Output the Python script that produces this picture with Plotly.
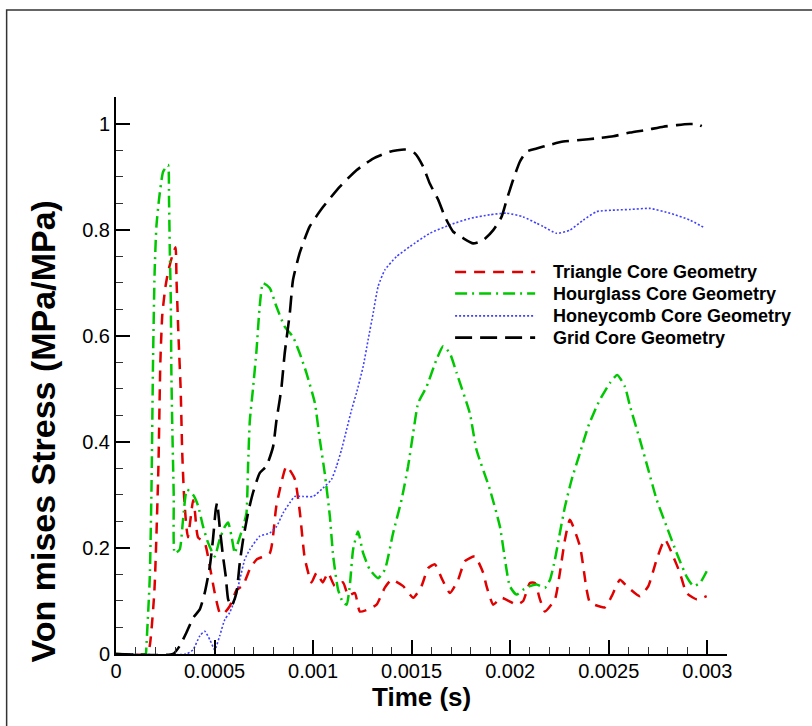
import plotly.graph_objects as go

# ---------------- data (time in seconds, stress ratio) ----------------
tri_t = [0, 0.155e-3, 0.171e-3, 0.195e-3, 0.215e-3, 0.225e-3, 0.235e-3, 0.250e-3, 0.264e-3, 0.285e-3,
         0.302e-3, 0.307e-3, 0.318e-3, 0.328e-3, 0.336e-3, 0.345e-3, 0.357e-3, 0.365e-3, 0.380e-3, 0.391e-3,
         0.400e-3, 0.416e-3, 0.450e-3, 0.476e-3, 0.501e-3, 0.526e-3, 0.543e-3, 0.577e-3, 0.611e-3, 0.645e-3,
         0.679e-3, 0.713e-3, 0.780e-3, 0.814e-3, 0.865e-3, 0.907e-3, 0.932e-3, 0.958e-3, 0.992e-3, 1.017e-3,
         1.049e-3, 1.076e-3, 1.110e-3, 1.152e-3, 1.178e-3, 1.212e-3, 1.237e-3, 1.279e-3, 1.322e-3, 1.364e-3,
         1.398e-3, 1.457e-3, 1.508e-3, 1.550e-3, 1.584e-3, 1.618e-3, 1.652e-3, 1.694e-3, 1.736e-3, 1.770e-3,
         1.821e-3, 1.863e-3, 1.880e-3, 1.914e-3, 1.956e-3, 2.032e-3, 2.066e-3, 2.100e-3, 2.125e-3, 2.151e-3,
         2.176e-3, 2.227e-3, 2.252e-3, 2.278e-3, 2.303e-3, 2.354e-3, 2.388e-3, 2.405e-3, 2.481e-3, 2.515e-3,
         2.557e-3, 2.591e-3, 2.658e-3, 2.701e-3, 2.743e-3, 2.785e-3, 2.827e-3, 2.861e-3, 2.895e-3, 2.946e-3,
         2.997e-3]
tri_v = [0, 0, 0.015, 0.12, 0.35, 0.55, 0.64, 0.69, 0.72, 0.75,
         0.767, 0.705, 0.59, 0.50, 0.38, 0.30, 0.24, 0.22, 0.26, 0.29,
         0.27, 0.22, 0.21, 0.165, 0.115, 0.078, 0.075, 0.09, 0.12, 0.13,
         0.16, 0.178, 0.19, 0.28, 0.354, 0.33, 0.27, 0.18, 0.135, 0.153,
         0.135, 0.153, 0.128, 0.135, 0.11, 0.115, 0.08, 0.084, 0.093, 0.125,
         0.14, 0.128, 0.106, 0.128, 0.162, 0.169, 0.143, 0.115, 0.14, 0.175,
         0.184, 0.153, 0.128, 0.093, 0.106, 0.093, 0.10, 0.134, 0.134, 0.103,
         0.08, 0.103, 0.153, 0.216, 0.253, 0.203, 0.121, 0.097, 0.088, 0.109,
         0.14, 0.128, 0.109, 0.128, 0.178, 0.216, 0.184, 0.153, 0.115, 0.103,
         0.109]

hour_t = [0, 0.150e-3, 0.154e-3, 0.171e-3, 0.180e-3, 0.188e-3, 0.196e-3, 0.205e-3, 0.218e-3, 0.239e-3,
          0.264e-3, 0.269e-3, 0.273e-3, 0.278e-3, 0.281e-3, 0.286e-3, 0.293e-3, 0.298e-3, 0.323e-3, 0.340e-3,
          0.360e-3, 0.391e-3, 0.416e-3, 0.442e-3, 0.467e-3, 0.501e-3, 0.526e-3, 0.552e-3, 0.569e-3, 0.586e-3,
          0.603e-3, 0.619e-3, 0.645e-3, 0.662e-3, 0.670e-3, 0.679e-3, 0.695e-3, 0.713e-3, 0.729e-3, 0.746e-3,
          0.780e-3, 0.814e-3, 0.856e-3, 0.898e-3, 0.932e-3, 0.966e-3, 1.009e-3, 1.034e-3, 1.059e-3, 1.085e-3,
          1.102e-3, 1.127e-3, 1.152e-3, 1.170e-3, 1.186e-3, 1.203e-3, 1.228e-3, 1.254e-3, 1.288e-3, 1.330e-3,
          1.364e-3, 1.406e-3, 1.449e-3, 1.482e-3, 1.508e-3, 1.533e-3, 1.576e-3, 1.626e-3, 1.660e-3, 1.694e-3,
          1.728e-3, 1.795e-3, 1.829e-3, 1.897e-3, 1.948e-3, 1.998e-3, 2.032e-3, 2.066e-3, 2.100e-3, 2.134e-3,
          2.176e-3, 2.202e-3, 2.227e-3, 2.252e-3, 2.278e-3, 2.312e-3, 2.354e-3, 2.396e-3, 2.439e-3, 2.464e-3,
          2.506e-3, 2.543e-3, 2.582e-3, 2.608e-3, 2.658e-3, 2.701e-3, 2.743e-3, 2.794e-3, 2.845e-3, 2.895e-3,
          2.929e-3, 2.963e-3, 2.997e-3]
hour_v = [0, 0, 0.015, 0.14, 0.31, 0.555, 0.72, 0.806, 0.856, 0.909,
          0.922, 0.856, 0.76, 0.668, 0.53, 0.42, 0.297, 0.19, 0.197, 0.253,
          0.31, 0.30, 0.28, 0.24, 0.21, 0.184, 0.216, 0.24, 0.248, 0.222,
          0.19, 0.21, 0.24, 0.266, 0.354, 0.44, 0.50, 0.573, 0.655, 0.699,
          0.69, 0.655, 0.617, 0.598, 0.567, 0.53, 0.473, 0.404, 0.341, 0.26,
          0.184, 0.121, 0.097, 0.093, 0.128, 0.197, 0.231, 0.19, 0.159, 0.143,
          0.159, 0.228, 0.291, 0.354, 0.417, 0.473, 0.504, 0.555, 0.58, 0.567,
          0.53, 0.454, 0.385, 0.31, 0.24, 0.128, 0.112, 0.121, 0.128, 0.131,
          0.125, 0.14, 0.178, 0.228, 0.278, 0.329, 0.379, 0.429, 0.467, 0.485,
          0.511, 0.526, 0.504, 0.467, 0.404, 0.347, 0.291, 0.24, 0.19, 0.146,
          0.128, 0.134, 0.156]

honey_t = [0, 0.357e-3, 0.391e-3, 0.425e-3, 0.450e-3, 0.476e-3, 0.501e-3, 0.526e-3, 0.552e-3, 0.577e-3,
           0.603e-3, 0.628e-3, 0.653e-3, 0.679e-3, 0.729e-3, 0.780e-3, 0.814e-3, 0.848e-3, 0.882e-3, 0.907e-3,
           0.949e-3, 1.000e-3, 1.051e-3, 1.093e-3, 1.119e-3, 1.144e-3, 1.170e-3, 1.195e-3, 1.220e-3, 1.254e-3,
           1.279e-3, 1.305e-3, 1.330e-3, 1.364e-3, 1.423e-3, 1.491e-3, 1.592e-3, 1.694e-3, 1.795e-3, 1.897e-3,
           1.982e-3, 2.066e-3, 2.134e-3, 2.167e-3, 2.236e-3, 2.303e-3, 2.371e-3, 2.439e-3, 2.540e-3, 2.608e-3,
           2.709e-3, 2.811e-3, 2.912e-3, 2.988e-3]
honey_v = [0, 0, 0.008, 0.034, 0.043, 0.027, 0.008, 0.034, 0.065, 0.078,
           0.103, 0.14, 0.178, 0.197, 0.222, 0.228, 0.24, 0.266, 0.285, 0.297,
           0.297, 0.297, 0.313, 0.329, 0.354, 0.385, 0.423, 0.46, 0.492, 0.542,
           0.592, 0.643, 0.693, 0.724, 0.749, 0.768, 0.793, 0.809, 0.821, 0.828,
           0.831, 0.824, 0.812, 0.806, 0.793, 0.799, 0.818, 0.834, 0.837, 0.838,
           0.84, 0.831, 0.818, 0.803]

grid_t = [0, 0.289e-3, 0.323e-3, 0.357e-3, 0.391e-3, 0.425e-3, 0.450e-3, 0.476e-3, 0.492e-3, 0.506e-3,
          0.513e-3, 0.526e-3, 0.543e-3, 0.557e-3, 0.569e-3, 0.586e-3, 0.611e-3, 0.628e-3, 0.645e-3, 0.670e-3,
          0.695e-3, 0.729e-3, 0.763e-3, 0.797e-3, 0.814e-3, 0.831e-3, 0.840e-3, 0.856e-3, 0.882e-3, 0.898e-3,
          0.932e-3, 0.983e-3, 1.051e-3, 1.136e-3, 1.220e-3, 1.305e-3, 1.389e-3, 1.465e-3, 1.516e-3, 1.558e-3,
          1.592e-3, 1.635e-3, 1.669e-3, 1.711e-3, 1.761e-3, 1.812e-3, 1.863e-3, 1.914e-3, 1.956e-3, 1.982e-3,
          2.015e-3, 2.049e-3, 2.083e-3, 2.134e-3, 2.202e-3, 2.269e-3, 2.354e-3, 2.439e-3, 2.523e-3, 2.608e-3,
          2.692e-3, 2.777e-3, 2.845e-3, 2.912e-3, 2.946e-3, 2.972e-3]
grid_v = [0, 0, 0.015, 0.04, 0.068, 0.084, 0.115, 0.165, 0.216, 0.272,
          0.285, 0.24, 0.184, 0.146, 0.103, 0.09, 0.115, 0.172, 0.216, 0.266,
          0.304, 0.341, 0.354, 0.391, 0.44, 0.48, 0.504, 0.567, 0.643, 0.705,
          0.756, 0.806, 0.843, 0.881, 0.912, 0.934, 0.947, 0.951, 0.944, 0.919,
          0.887, 0.856, 0.824, 0.796, 0.784, 0.774, 0.78, 0.799, 0.824, 0.856,
          0.894, 0.928, 0.947, 0.953, 0.96, 0.966, 0.969, 0.972, 0.976, 0.983,
          0.988, 0.994, 0.997, 0.999, 0.999, 0.995]

x_tickvals = [0, 0.0005, 0.001, 0.0015, 0.002, 0.0025, 0.003]
x_ticktext = ["0", "0.0005", "0.001", "0.0015", "0.002", "0.0025", "0.003"]
y_tickvals = [0, 0.2, 0.4, 0.6, 0.8, 1.0]
y_ticktext = ["0", "0.2", "0.4", "0.6", "0.8", "1"]

names = ["Triangle Core Geometry", "Hourglass Core Geometry",
         "Honeycomb Core Geometry", "Grid Core Geometry"]

FONT = "Liberation Sans, Arial, Helvetica, sans-serif"

fig = go.Figure()
series = [
    (tri_t, tri_v, "#e00000", "11px,8px", 2.5),
    (hour_t, hour_v, "#00c800", "12px,5px,2px,5px", 2.5),
    (honey_t, honey_v, "#4040ff", "2px,2px", 1.6),
    (grid_t, grid_v, "#000000", "17px,8px", 2.6),
]
for (t, v, c, d, w), n in zip(series, names):
    fig.add_trace(go.Scatter(x=t, y=v, mode="lines", name=n, showlegend=False,
                             line=dict(color=c, dash=d, width=w, shape="spline", smoothing=0.5)))

axis_common = dict(showline=True, linecolor="black", linewidth=2, showgrid=False, zeroline=False,
                   ticks="inside", ticklen=14, tickwidth=2, tickcolor="black",
                   tickfont=dict(family=FONT, size=20, color="black"), mirror=False)

fig.update_xaxes(range=[0, 0.0031], tickmode="array", tickvals=x_tickvals, ticktext=x_ticktext,
                 ticklabelstandoff=-2,
                 minor=dict(ticks="inside", ticklen=7, tickwidth=1, tickcolor="#333", dtick=0.0001, tick0=0),
                 **axis_common)
fig.update_yaxes(range=[0, 1.05], tickmode="array", tickvals=y_tickvals, ticktext=y_ticktext,
                 ticklabelstandoff=0,
                 minor=dict(ticks="inside", ticklen=7, tickwidth=1, tickcolor="#333", dtick=0.05, tick0=0),
                 **axis_common)

# legend drawn as key lines + labels (paper coordinates)
leg_y = [0.686, 0.647, 0.607, 0.568]
shapes = [dict(type="rect", xref="paper", yref="paper", x0=-0.179, x1=1.2, y0=-0.2, y1=1.156,
               line=dict(color="#333333", width=1.5), layer="below")]
annotations = [
    dict(text="<b>Time (s)</b>", x=0.5, y=-0.078, xref="paper", yref="paper",
         xanchor="center", yanchor="middle", showarrow=False,
         font=dict(family=FONT, size=26, color="black")),
    dict(text="<b>Von mises Stress (MPa/MPa)</b>", x=-0.12, y=0.399, xref="paper", yref="paper",
         xanchor="center", yanchor="middle", textangle=-90, showarrow=False,
         font=dict(family=FONT, size=34, color="black")),
]
for (t, v, c, d, w), n, ly in zip(series, names, leg_y):
    shapes.append(dict(type="line", xref="paper", yref="paper", x0=0.555, x1=0.686, y0=ly, y1=ly,
                       line=dict(color=c, dash=d, width=w)))
    annotations.append(dict(text="<b>" + n + "</b>", x=0.712, y=ly, xref="paper", yref="paper",
                            xanchor="left", yanchor="middle", showarrow=False,
                            font=dict(family=FONT, size=18, color="black")))

fig.update_layout(
    width=812, height=726,
    margin=dict(l=116, r=85, t=97, b=72),
    paper_bgcolor="white", plot_bgcolor="white",
    showlegend=False,
    font=dict(family=FONT, color="black"),
    annotations=annotations,
    shapes=shapes,
)

fig.write_html("out.html")
